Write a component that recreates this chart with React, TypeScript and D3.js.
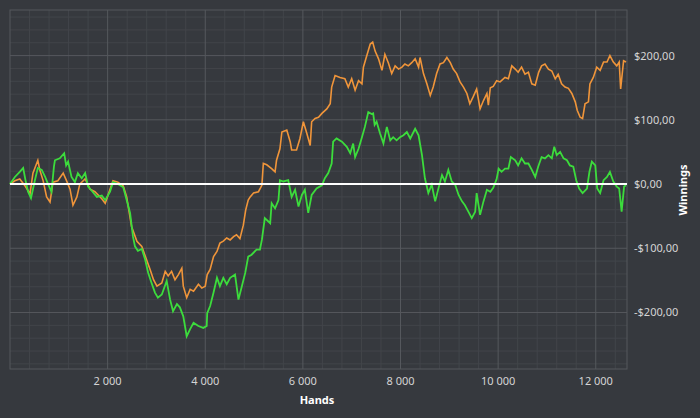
import * as d3 from 'd3'

// [hands, winnings]
const orangeSeries: [number, number][] = [
  [0, 0], [100, 5], [200, 8], [310, -3], [410, -15], [470, 17], [570, 37], [610, 22],
  [680, 5], [750, -20], [820, -28], [880, 3], [980, 5], [1090, 17], [1160, 5], [1230, -8],
  [1290, -33], [1370, -20], [1430, 0], [1540, 8], [1640, -8], [1740, -12], [1880, -23],
  [1950, -30], [2050, -8], [2110, 5], [2210, 3], [2320, -3], [2390, -20], [2490, -66],
  [2600, -89], [2700, -97], [2770, -112], [2870, -133], [2940, -149], [3010, -159],
  [3110, -154], [3180, -136], [3240, -143], [3310, -136], [3380, -149], [3450, -141],
  [3520, -131], [3550, -159], [3620, -177], [3690, -164], [3760, -167], [3860, -156],
  [3930, -162], [4000, -159], [4040, -141], [4100, -133], [4170, -113], [4240, -105],
  [4300, -92], [4370, -89], [4440, -84], [4510, -87], [4580, -82], [4640, -79], [4710, -85],
  [4780, -64], [4830, -40], [4880, -25], [4920, -20], [4990, -14], [5090, -12], [5160, -2],
  [5190, 32], [5260, 30], [5360, 24], [5430, 19], [5460, 37], [5530, 55], [5570, 81],
  [5670, 84], [5740, 66], [5770, 53], [5870, 53], [5940, 71], [6010, 97], [6080, 79],
  [6150, 60], [6180, 97], [6250, 102], [6320, 104], [6390, 110], [6490, 117], [6560, 125],
  [6590, 151], [6660, 169], [6760, 166], [6860, 164], [6930, 151], [7000, 164], [7070, 146],
  [7140, 161], [7210, 156], [7240, 182], [7310, 200], [7380, 218], [7430, 221], [7480, 207],
  [7550, 195], [7620, 177], [7680, 202], [7750, 189], [7820, 172], [7890, 184], [7960, 179],
  [8030, 182], [8090, 187], [8160, 184], [8230, 189], [8300, 195], [8370, 182], [8400, 197],
  [8470, 172], [8540, 156], [8610, 138], [8670, 151], [8740, 172], [8810, 187], [8880, 189],
  [8950, 197], [9020, 189], [9080, 179], [9150, 172], [9220, 159], [9290, 151], [9360, 141],
  [9420, 125], [9490, 136], [9560, 148], [9630, 117], [9700, 130], [9770, 141], [9800, 123],
  [9840, 150], [9900, 152], [9970, 161], [10040, 159], [10140, 166], [10210, 164],
  [10280, 184], [10350, 179], [10410, 174], [10480, 182], [10550, 171], [10620, 174],
  [10690, 156], [10760, 154], [10830, 174], [10890, 184], [10960, 187], [11030, 179],
  [11100, 176], [11170, 164], [11230, 171], [11300, 156], [11370, 151], [11440, 149],
  [11510, 141], [11580, 128], [11620, 115], [11680, 104], [11730, 102], [11780, 125],
  [11850, 128], [11880, 156], [11950, 166], [12020, 182], [12090, 177], [12160, 190],
  [12230, 190], [12290, 200], [12360, 190], [12430, 184], [12480, 190], [12510, 148],
  [12570, 192], [12620, 190],
]

const greenSeries: [number, number][] = [
  [0, 0], [100, 11], [200, 19], [270, 25], [320, 5], [370, -12], [430, -22], [510, 6],
  [570, 25], [650, 22], [720, 11], [780, 0], [850, -12], [900, 27], [920, 37], [1020, 40],
  [1110, 48], [1150, 29], [1190, 35], [1260, 11], [1330, 3], [1390, 17], [1470, 9],
  [1540, 17], [1600, -4], [1670, -10], [1780, -20], [1880, -18], [1950, -25], [2050, -12],
  [2110, 3], [2210, 0], [2320, -5], [2390, -25], [2460, -45], [2520, -82], [2560, -97],
  [2620, -104], [2700, -101], [2770, -118], [2830, -138], [2900, -154], [2970, -169],
  [3030, -177], [3110, -172], [3210, -151], [3280, -180], [3340, -198], [3420, -187],
  [3480, -192], [3550, -206], [3620, -237], [3690, -226], [3760, -216], [3860, -221],
  [3960, -224], [4030, -221], [4040, -201], [4100, -190], [4170, -169], [4240, -146],
  [4300, -159], [4370, -146], [4440, -156], [4510, -146], [4610, -141], [4680, -180],
  [4750, -159], [4820, -138], [4880, -113], [4950, -110], [5050, -102], [5120, -102],
  [5160, -87], [5220, -53], [5330, -61], [5360, -30], [5430, -38], [5500, -25], [5530, 6],
  [5600, 4], [5700, 6], [5770, -20], [5840, -9], [5910, -35], [5980, -17], [6040, -9],
  [6110, -45], [6180, -17], [6280, -7], [6390, -2], [6450, 9], [6520, 17], [6590, 32],
  [6620, 66], [6690, 71], [6800, 66], [6900, 58], [6970, 48], [7030, 63], [7070, 42],
  [7140, 55], [7210, 73], [7270, 89], [7340, 112], [7410, 109], [7440, 110], [7470, 92],
  [7510, 97], [7580, 79], [7650, 63], [7720, 89], [7790, 68], [7850, 73], [7920, 68],
  [7990, 73], [8060, 76], [8130, 81], [8200, 71], [8300, 86], [8370, 76], [8440, 45],
  [8500, 9], [8570, -14], [8640, -1], [8710, -27], [8780, -6], [8850, 14], [8910, 4],
  [8980, 22], [9050, 4], [9120, -1], [9190, -17], [9260, -27], [9320, -33], [9390, -43],
  [9460, -53], [9530, -43], [9560, -14], [9630, -48], [9700, -27], [9770, -9], [9840, -12],
  [9900, -6], [9970, 8], [10010, 24], [10070, 19], [10140, 24], [10210, 24], [10260, 42],
  [10350, 37], [10410, 29], [10480, 40], [10550, 32], [10620, 32], [10690, 22], [10760, 11],
  [10820, 27], [10890, 42], [10960, 40], [11030, 45], [11100, 40], [11150, 58], [11200, 45],
  [11270, 50], [11340, 40], [11410, 37], [11470, 29], [11540, 27], [11600, 6], [11660, -7],
  [11730, -14], [11820, -7], [11870, 19], [11920, 35], [11990, 29], [12030, -7],
  [12090, -14], [12160, 6], [12230, 11], [12290, 19], [12360, 4], [12430, -4], [12480, -7],
  [12530, -43], [12580, -4], [12620, -2],
]

const handsDomain: [number, number] = [0, 12640]
const winningsDomain: [number, number] = [-288, 271]
const handsTicks = [2000, 4000, 6000, 8000, 10000, 12000]
const winningsTicks = [-200, -100, 0, 100, 200]

const W = 700
const H = 418
const left = 10
const right = 627
const top = 10
const bottom = 369
const bg = '#36393e'
const font = '"Noto Sans", "Open Sans", sans-serif'

const fmtHands = (v: number) => d3.format(',')(v).replace(',', ' ')
const fmtMoney = (v: number) =>
  (v < 0 ? '-' : '') + '$' + Math.abs(v).toFixed(2).replace('.', ',')

export default function App() {
  const x = d3.scaleLinear(handsDomain, [left, right])
  const y = d3.scaleLinear(winningsDomain, [bottom, top])
  const line = d3
    .line<[number, number]>()
    .x((d) => x(d[0]))
    .y((d) => y(d[1]))

  const minorX = d3.range(400, handsDomain[1], 400).filter((v) => v % 2000 !== 0)
  const minorY = d3
    .range(-280, winningsDomain[1], 20)
    .filter((v) => v % 100 !== 0)

  return (
    <svg
      width={W}
      height={H}
      style={{ position: 'fixed', left: 0, top: 0, background: bg }}
      fontFamily={font}
    >
      <rect x={0} y={0} width={W} height={H} fill={bg} />
      {minorX.map((v) => (
        <line key={'mx' + v} x1={x(v)} x2={x(v)} y1={top} y2={bottom} stroke="#42454a" />
      ))}
      {minorY.map((v) => (
        <line key={'my' + v} x1={left} x2={right} y1={y(v)} y2={y(v)} stroke="#42454a" />
      ))}
      {handsTicks.map((v) => (
        <line key={'gx' + v} x1={x(v)} x2={x(v)} y1={top} y2={bottom} stroke="#55585d" />
      ))}
      {winningsTicks.map((v) => (
        <line key={'gy' + v} x1={left} x2={right} y1={y(v)} y2={y(v)} stroke="#55585d" />
      ))}
      <rect
        x={left}
        y={top}
        width={right - left}
        height={bottom - top}
        fill="none"
        stroke="#55585d"
      />
      <path d={line(orangeSeries) || undefined} fill="none" stroke="#f0953a" strokeWidth={1.6} />
      <path d={line(greenSeries) || undefined} fill="none" stroke="#3cdc3c" strokeWidth={1.8} />
      <line x1={left} x2={right} y1={y(0)} y2={y(0)} stroke="#ffffff" strokeWidth={2} />
      {handsTicks.map((v) => (
        <text
          key={'tx' + v}
          x={x(v)}
          y={385}
          textAnchor="middle"
          fontSize={11}
          fill="#d4d4d4"
        >
          {fmtHands(v)}
        </text>
      ))}
      {winningsTicks.map((v) => (
        <text
          key={'ty' + v}
          x={634}
          y={y(v) + 4}
          fontSize={11}
          fill="#d4d4d4"
        >
          {fmtMoney(v)}
        </text>
      ))}
      <text x={317} y={404} textAnchor="middle" fontSize={11} fontWeight="bold" fill="#ffffff">
        Hands
      </text>
      <text
        transform={`translate(687, 190) rotate(-90)`}
        textAnchor="middle"
        fontSize={11}
        fontWeight="bold"
        fill="#ffffff"
      >
        Winnings
      </text>
    </svg>
  )
}
